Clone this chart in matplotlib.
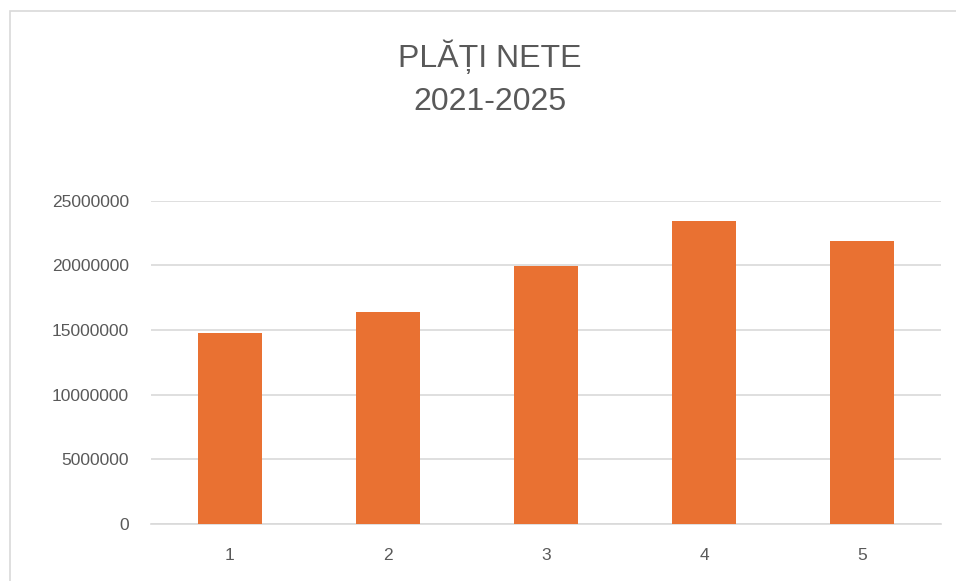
import matplotlib.pyplot as plt
from matplotlib.patches import Rectangle

# values
categories = ["1", "2", "3", "4", "5"]
plati_nete = [14750000, 16390000, 19920000, 23410000, 21910000]
y_ticks = [0, 5000000, 10000000, 15000000, 20000000, 25000000]

plt.rcParams["font.family"] = ["Liberation Sans", "DejaVu Sans"]

fig = plt.figure(figsize=(9.56, 5.81), dpi=100)
ax = fig.add_axes([151 / 956, 57 / 581, 790 / 956, 323.3 / 581])

x = range(len(categories))
ax.bar(x, plati_nete, width=0.405, color="#E97132", zorder=3)

ax.set_xlim(-0.5, len(categories) - 0.5)
ax.set_ylim(0, 25000000)
ax.set_xticks(list(x))
ax.set_xticklabels(categories)
ax.set_yticks(y_ticks)
ax.set_yticklabels([str(v) for v in y_ticks])

ax.grid(axis="y", color="#d9d9d9", linewidth=1.2, zorder=0)
for side in ["top", "right", "left"]:
    ax.spines[side].set_visible(False)
ax.spines["bottom"].set_color("#d9d9d9")
ax.spines["bottom"].set_linewidth(1.2)
ax.tick_params(length=0, labelsize=12.5, colors="#595959")
ax.tick_params(axis="y", pad=16)
ax.tick_params(axis="x", pad=17)

fig.text(490 / 956, 1 - 78 / 581, "PLĂȚI NETE\n2021-2025", ha="center", va="center",
         fontsize=23, color="#595959", linespacing=1.55)

# chart area border (left and top visible)
fig.patches.append(Rectangle((10 / 956, -0.1), 1.0, 1 - 11 / 581 + 0.1,
                             transform=fig.transFigure, fill=False,
                             edgecolor="#d9d9d9", linewidth=1.2))

fig.savefig("out.png", dpi=100)
